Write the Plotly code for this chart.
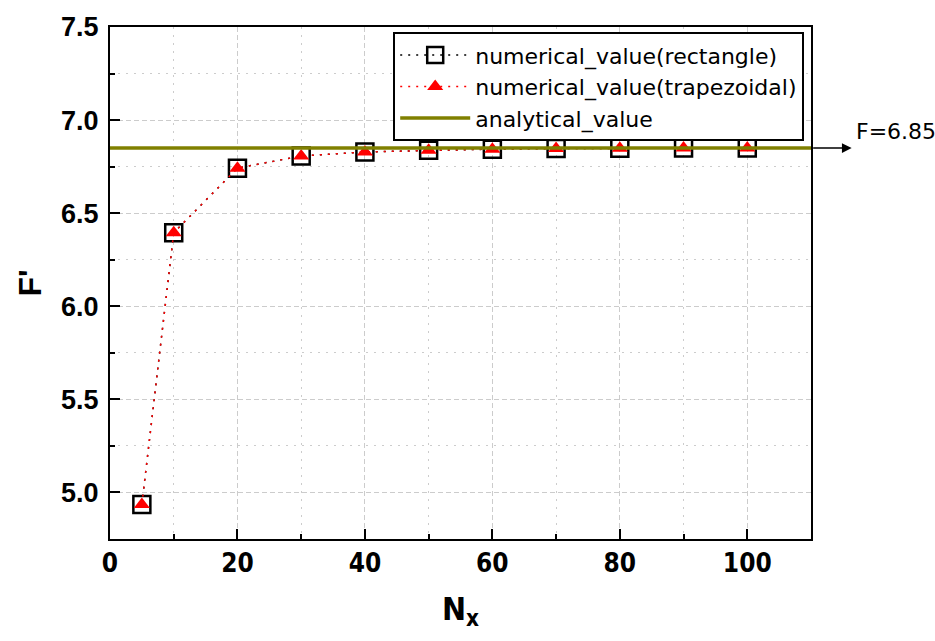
import plotly.graph_objects as go

# ---- data ----
n_x = [5, 10, 20, 30, 40, 50, 60, 70, 80, 90, 100]
f_rectangle = [4.935, 6.395, 6.742, 6.807, 6.829, 6.838, 6.844, 6.847, 6.849, 6.85, 6.85]
f_trapezoidal = [4.935, 6.395, 6.742, 6.807, 6.829, 6.838, 6.844, 6.847, 6.849, 6.85, 6.85]
analytical_value = 6.85
x_range = [0, 110]
y_range = [4.75, 7.5]
x_ticks = [0, 20, 40, 60, 80, 100]
y_ticks = [5.0, 5.5, 6.0, 6.5, 7.0, 7.5]

fig = go.Figure()

fig.add_trace(go.Scatter(
    x=n_x, y=f_rectangle, mode="lines+markers",
    name="numerical_value(rectangle)",
    line=dict(color="black", width=1.5, dash="2px,6px"),
    marker=dict(symbol="square-open", size=17, color="black", line=dict(width=2.5)),
))
fig.add_trace(go.Scatter(
    x=n_x, y=f_trapezoidal, mode="lines+markers",
    name="numerical_value(trapezoidal)",
    line=dict(color="red", width=1.5, dash="2px,6px"),
    marker=dict(symbol="triangle-up", size=14, color="red"),
))
fig.add_trace(go.Scatter(
    x=x_range, y=[analytical_value] * len(x_range), mode="lines",
    name="analytical_value",
    line=dict(color="#808000", width=3.5),
))

fig.update_layout(
    width=935, height=641,
    margin=dict(l=110, r=124, t=23, b=102),
    paper_bgcolor="white", plot_bgcolor="white",
    font=dict(family="Liberation Sans, Arial, sans-serif", color="black"),
    showlegend=True,
    legend=dict(
        x=0.404, y=0.99, xanchor="left", yanchor="top",
        bordercolor="black", borderwidth=2, bgcolor="white",
        font=dict(size=22, family="DejaVu Sans, sans-serif"),
        itemwidth=70, tracegroupgap=0,
    ),
)

axis_common = dict(
    showline=True, linecolor="black", linewidth=2, mirror=True,
    ticks="inside", ticklen=10, tickwidth=2, tickcolor="black",
    showgrid=True, gridcolor="#cccccc", gridwidth=1, griddash="5px,3px",
    zeroline=False,
)

fig.update_xaxes(
    range=x_range, tickvals=x_ticks, **axis_common,
    tickfont=dict(family="DejaVu Sans Condensed, Liberation Sans, sans-serif", size=26, weight="bold"),
    minor=dict(dtick=10, ticks="inside", ticklen=5, tickwidth=2, tickcolor="black",
               showgrid=True, gridcolor="#cccccc", gridwidth=1, griddash="2px,6px"),
    title=dict(text="N<sub>x</sub>",
               font=dict(family="DejaVu Sans Condensed, Liberation Sans, sans-serif", size=32, weight="bold"),
               standoff=20),
)
fig.update_yaxes(
    range=y_range, tickvals=y_ticks, tickformat=".1f", **axis_common,
    tickfont=dict(family="Liberation Sans, Arial, sans-serif", size=27, weight="bold"),
    ticklabelstandoff=4,
    minor=dict(dtick=0.25, tick0=5.0, ticks="inside", ticklen=5, tickwidth=2, tickcolor="black",
               showgrid=True, gridcolor="#cccccc", gridwidth=1, griddash="2px,6px"),
    title=dict(text="F'", font=dict(family="Liberation Sans, Arial, sans-serif", size=32, weight="bold"),
               standoff=10),
)

# arrow pointing to the analytical value, outside the plot on the right
fig.add_annotation(
    xref="paper", yref="y", x=1.058, y=analytical_value,
    ax=-40, ay=0, axref="pixel", ayref="pixel",
    text="", showarrow=True, arrowhead=2, arrowsize=1.3, arrowwidth=1.5, arrowcolor="black",
)
fig.add_annotation(
    xref="paper", yref="y", x=1.061, y=analytical_value,
    xanchor="left", yanchor="bottom", yshift=2,
    text="F=6.85", showarrow=False,
    font=dict(family="DejaVu Sans, sans-serif", size=22, color="black"),
)

fig.write_html("out.html")
